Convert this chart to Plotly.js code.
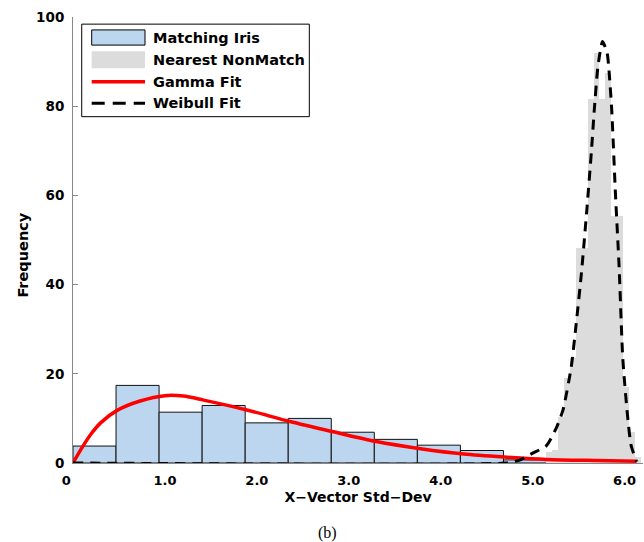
<!DOCTYPE html>
<html>
<head>
<meta charset="utf-8">
<script src="https://cdn.plot.ly/plotly-3.0.1.min.js"></script>
<style>html,body{margin:0;padding:0;background:#fff;}#chart{width:644px;height:542px;}</style>
</head>
<body>
<div id="chart"></div>
<script>
// ---- Data ----
const matchBinStart = 0;
const matchBinWidth = 0.4682;
const matchFreq = [3.8, 17.4, 11.4, 12.9, 9.0, 10.0, 6.9, 5.3, 4.0, 2.8, 0.7];

const nonMatchBinStart = 5.15;
const nonMatchBinWidth = 0.064;
const nonMatchFreq = [2.5, 3.0, 10.4, 19.0, 23.5, 48.1, 48.1, 81.6, 91.9, 81.6, 87.4, 55.4, 55.4, 17.1, 7.0, 1.4];

const gammaX = [0, 0.1, 0.2, 0.3, 0.48, 0.73, 1.0, 1.2, 1.42, 1.89, 2.36, 2.83, 3.3, 3.78, 4.25, 4.72, 5.15, 5.69, 6.13];
const gammaY = [0, 3.5, 6.6, 9.0, 11.8, 13.9, 15.1, 15.0, 14.1, 11.9, 9.3, 7.0, 4.8, 3.2, 2.0, 1.3, 0.8, 0.55, 0.4];

const weibullX = [0, 4.7, 4.85, 5.0, 5.15, 5.26, 5.33, 5.42, 5.47, 5.53, 5.59, 5.64, 5.67, 5.71, 5.76, 5.81, 5.83, 5.86, 5.90, 5.94, 5.98, 6.03, 6.07, 6.13];
const weibullY = [0, 0, 0.6, 2.2, 3.9, 8.0, 11.9, 21.6, 30.6, 42.5, 57.0, 70.2, 79.1, 88.9, 94.5, 91.9, 88.1, 79.1, 60.5, 44.0, 23.5, 11.0, 4.0, 0.3];

const xTickVals = [0, 1, 2, 3, 4, 5, 6];
const xTickText = ['0\u00a0\u00a0\u00a0', '1.0', '2.0', '3.0', '4.0', '5.0', '6.0'];
const yTickVals = [0, 20, 40, 60, 80, 100];

const seriesNames = ['Matching Iris', 'Nearest NonMatch', 'Gamma Fit', 'Weibull Fit'];

// ---- Build traces ----
const matchCenters = matchFreq.map((_, i) => matchBinStart + (i + 0.5) * matchBinWidth);
const nonMatchCenters = nonMatchFreq.map((_, i) => nonMatchBinStart + (i + 0.5) * nonMatchBinWidth);

const FONT = '"DejaVu Sans", "Liberation Sans", Arial, sans-serif';
const blue = 'rgb(189,214,240)';
const gray = 'rgb(220,220,220)';

const traces = [
  {type: 'bar', x: matchCenters, y: matchFreq, width: matchBinWidth, name: seriesNames[0],
   marker: {color: blue, line: {color: '#111', width: 1}}, showlegend: false, hoverinfo: 'x+y'},
  {type: 'bar', x: nonMatchCenters, y: nonMatchFreq, width: nonMatchBinWidth, name: seriesNames[1],
   marker: {color: gray, line: {width: 0}}, showlegend: false, hoverinfo: 'x+y'},
  {type: 'scatter', mode: 'lines', x: gammaX, y: gammaY, name: seriesNames[2],
   line: {color: '#ff0000', width: 3.5, shape: 'spline', smoothing: 0.8}, showlegend: false},
  {type: 'scatter', mode: 'lines', x: weibullX, y: weibullY, name: seriesNames[3],
   line: {color: '#000', width: 3, dash: '10px,7px', shape: 'spline', smoothing: 0.6}, showlegend: false}
];

// ---- Custom legend (box, symbols, labels) in paper coordinates ----
const lgX0 = 0.0153, lgX1 = 0.4146, lgY0 = 0.7765, lgY1 = 0.984;
const symX0 = 0.0328, symX1 = 0.1263, txtX = 0.136;
const rowY = [0.954, 0.904, 0.855, 0.8065];

const shapes = [
  {type: 'rect', xref: 'paper', yref: 'paper', x0: lgX0, x1: lgX1, y0: lgY0, y1: lgY1,
   line: {color: '#000', width: 1}, fillcolor: '#fff', layer: 'above'},
  {type: 'rect', xref: 'paper', yref: 'paper', x0: symX0, x1: symX1, y0: rowY[0] - 0.017, y1: rowY[0] + 0.017,
   line: {color: '#000', width: 1}, fillcolor: blue, layer: 'above'},
  {type: 'rect', xref: 'paper', yref: 'paper', x0: symX0, x1: symX1, y0: rowY[1] - 0.019, y1: rowY[1] + 0.019,
   line: {width: 0}, fillcolor: gray, layer: 'above'},
  {type: 'line', xref: 'paper', yref: 'paper', x0: symX0, x1: symX1, y0: rowY[2], y1: rowY[2],
   line: {color: '#ff0000', width: 3.5}, layer: 'above'},
  {type: 'line', xref: 'paper', yref: 'paper', x0: symX0, x1: symX1, y0: rowY[3], y1: rowY[3],
   line: {color: '#000', width: 3, dash: '13px,8px'}, layer: 'above'}
];

const annotations = seriesNames.map((n, i) => ({
  xref: 'paper', yref: 'paper', x: txtX, y: rowY[i], xanchor: 'left', yanchor: 'middle',
  text: '<b>' + n + '</b>', showarrow: false, font: {family: FONT, size: 14.5, color: '#000'}
}));
annotations.push({
  xref: 'paper', yref: 'paper', x: -0.0877, y: 0.465, xanchor: 'center', yanchor: 'middle',
  text: '<b>Frequency</b>', textangle: -90, showarrow: false, font: {family: FONT, size: 14.5, color: '#000'}
});
annotations.push({
  xref: 'paper', yref: 'paper', x: 0.446, y: -0.157, xanchor: 'center', yanchor: 'middle',
  text: '(b)', showarrow: false, font: {family: '"Liberation Serif", "Times New Roman", serif', size: 16, color: '#000'}
});

const layout = {
  width: 644, height: 542,
  margin: {l: 73, r: 1, t: 17, b: 79, pad: 0},
  paper_bgcolor: '#fff', plot_bgcolor: '#fff',
  barmode: 'overlay', bargap: 0,
  showlegend: false,
  font: {family: FONT, color: '#000'},
  xaxis: {
    range: [0, 6.2], tickvals: xTickVals, ticktext: xTickText,
    showgrid: false, zeroline: false, showline: true, linecolor: '#888', linewidth: 1,
    ticks: '', ticklabelstandoff: 5,
    tickfont: {family: FONT, size: 13, color: '#000', weight: 'bold'},
    title: {text: '<b>X\u2212Vector Std\u2212Dev</b>', font: {family: FONT, size: 14, color: '#000'}, standoff: 5}
  },
  yaxis: {
    range: [0, 100], tickvals: yTickVals,
    showgrid: false, zeroline: false, showline: true, linecolor: '#888', linewidth: 1,
    ticks: 'inside', ticklen: 5, tickcolor: '#888', ticklabelstandoff: 5,
    tickfont: {family: FONT, size: 13.5, color: '#000', weight: 'bold'}
  },
  shapes: shapes,
  annotations: annotations
};

Plotly.newPlot('chart', traces, layout, {displayModeBar: false, staticPlot: true});
</script>
</body>
</html>
